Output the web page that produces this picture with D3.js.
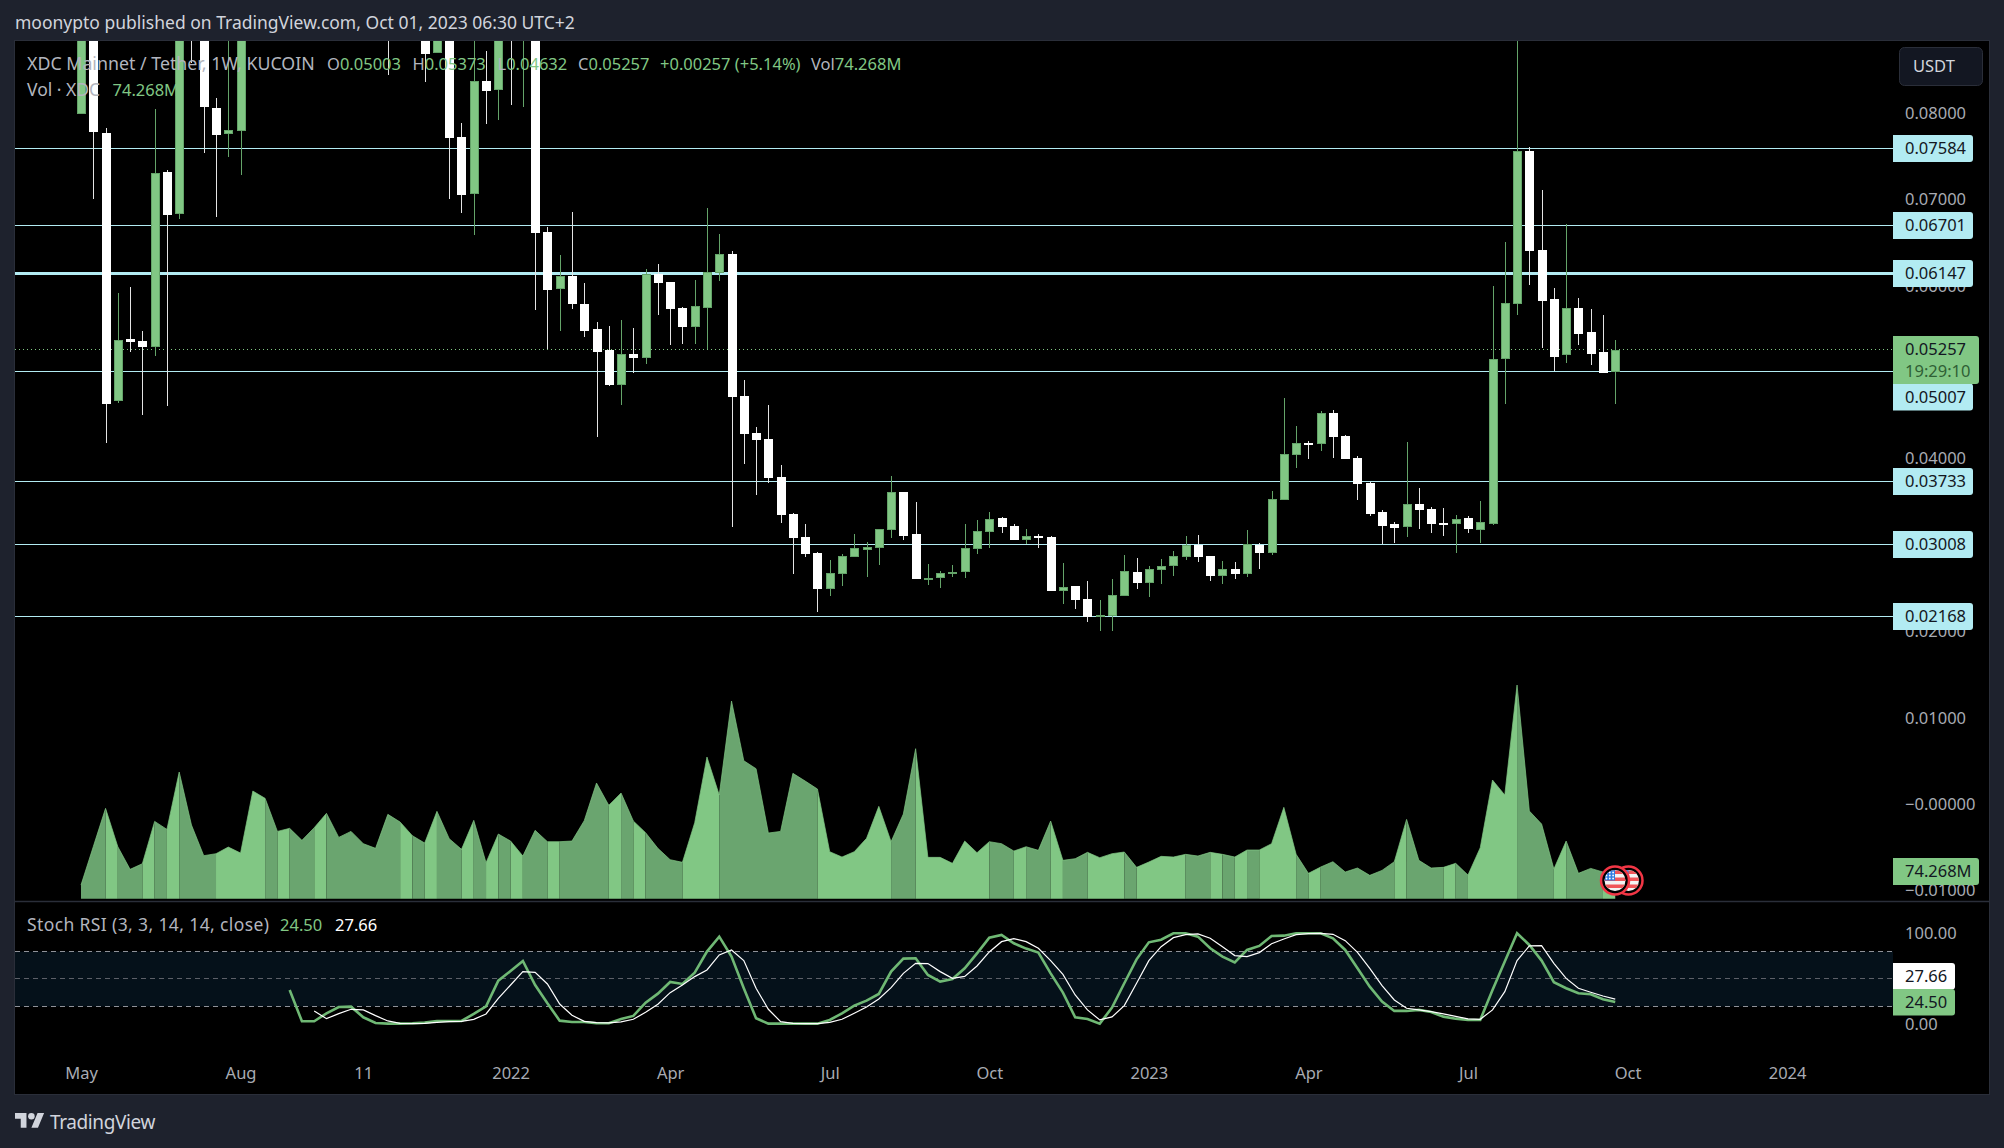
<!DOCTYPE html>
<html>
<head>
<meta charset="utf-8">
<title>XDC / USDT</title>
<script src="https://cdnjs.cloudflare.com/ajax/libs/d3/7.8.5/d3.min.js"></script>
<style>
  html, body { margin: 0; padding: 0; background: #1e222d; overflow: hidden; }
  svg { display: block; font-family: "Noto Sans", sans-serif; }
  text { font-size: 16.5px; }
</style>
</head>
<body>
<script>
var width = 2004;
var height = 1148;

// weekly candles. bars 14-27 and the tops of a few others
// are above the visible pane so those numbers are only rough guesses
var opens = [
  0.07993, 0.0960, 0.07769, 0.04666, 0.05380, 0.05357, 0.05280, 0.07314, 0.06831, 0.0950,
  0.0900, 0.08055, 0.07757, 0.07792, 0.0950, 0.1080, 0.1210, 0.1120, 0.1250, 0.1170,
  0.1090, 0.1310, 0.1210, 0.1130, 0.1060, 0.1000, 0.0920, 0.0900, 0.0960, 0.08695,
  0.0960, 0.07719, 0.07063, 0.08367, 0.08267, 0.0930, 0.08826, 0.0950, 0.06619, 0.05963,
  0.06109, 0.05785, 0.05496, 0.05253, 0.04851, 0.05206, 0.05164, 0.06133, 0.06040, 0.05739,
  0.05519, 0.05739, 0.06144, 0.06364, 0.04720, 0.04291, 0.04222, 0.03782, 0.03353, 0.03087,
  0.02902, 0.02485, 0.02659, 0.02856, 0.02937, 0.02960, 0.03168, 0.03608, 0.03122, 0.02601,
  0.02612, 0.02659, 0.02682, 0.02948, 0.03145, 0.03307, 0.03214, 0.03052, 0.03099, 0.03087,
  0.02462, 0.02520, 0.02369, 0.02165, 0.02172, 0.02404, 0.02682, 0.02555, 0.02705, 0.02751,
  0.02856, 0.02994, 0.02867, 0.02636, 0.02717, 0.02659, 0.02998, 0.02902, 0.03516, 0.04037,
  0.04176, 0.04164, 0.04523, 0.04257, 0.04002, 0.03712, 0.03377, 0.03238, 0.03195, 0.03469,
  0.03412, 0.03249, 0.03238, 0.03307, 0.03168, 0.03238, 0.05140, 0.05788, 0.07556, 0.06410,
  0.05843, 0.05186, 0.05738, 0.05460, 0.05229, 0.05003
];
var highs = [
  0.0990, 0.0975, 0.07819, 0.05909, 0.05977, 0.05473, 0.08043, 0.07337, 0.0960, 0.0960,
  0.0915, 0.08170, 0.0890, 0.0975, 0.1120, 0.1250, 0.1290, 0.1300, 0.1320, 0.1240,
  0.1380, 0.1400, 0.1260, 0.1200, 0.1110, 0.1050, 0.0970, 0.0985, 0.0990, 0.0990,
  0.0990, 0.07877, 0.0890, 0.08715, 0.0950, 0.0950, 0.0970, 0.0970, 0.06673, 0.06353,
  0.06850, 0.06024, 0.05577, 0.05531, 0.05600, 0.05507, 0.06187, 0.06248, 0.06040, 0.05750,
  0.06063, 0.06896, 0.06595, 0.06399, 0.04905, 0.04361, 0.04615, 0.03921, 0.03365, 0.03238,
  0.02913, 0.02821, 0.02890, 0.03118, 0.03029, 0.03180, 0.03793, 0.03608, 0.03492, 0.02775,
  0.02693, 0.02763, 0.03238, 0.03284, 0.03377, 0.03319, 0.03238, 0.03180, 0.03122, 0.03099,
  0.02786, 0.02520, 0.02578, 0.02358, 0.02601, 0.02879, 0.02844, 0.02751, 0.02832, 0.02925,
  0.03099, 0.03110, 0.02867, 0.02809, 0.02798, 0.03168, 0.03018, 0.03620, 0.04697, 0.04372,
  0.04199, 0.04546, 0.04558, 0.04268, 0.04025, 0.03724, 0.03400, 0.03261, 0.04187, 0.03655,
  0.03435, 0.03423, 0.03342, 0.03331, 0.03504, 0.05993, 0.06502, 0.0895, 0.07598, 0.07104,
  0.05970, 0.06711, 0.05854, 0.05727, 0.05657, 0.05373
];
var lows = [
  0.07993, 0.07001, 0.0418, 0.04643, 0.05229, 0.04500, 0.05187, 0.04604, 0.06769, 0.08572,
  0.07534, 0.06793, 0.07487, 0.07279, 0.0930, 0.1040, 0.1060, 0.1090, 0.1120, 0.1050,
  0.1060, 0.1170, 0.1080, 0.1020, 0.0950, 0.08440, 0.0890, 0.0890, 0.08359, 0.08695,
  0.07001, 0.06843, 0.06584, 0.07869, 0.07916, 0.08089, 0.08070, 0.05716, 0.05260, 0.05476,
  0.05727, 0.05407, 0.04249, 0.04836, 0.04616, 0.04990, 0.05091, 0.05658, 0.05310, 0.05322,
  0.05322, 0.05264, 0.06051, 0.03203, 0.03932, 0.03573, 0.03712, 0.03249, 0.02659, 0.02856,
  0.02219, 0.02404, 0.02520, 0.02856, 0.02624, 0.02763, 0.03076, 0.03052, 0.02601, 0.02531,
  0.02497, 0.02624, 0.02612, 0.02890, 0.02960, 0.03133, 0.03052, 0.03006, 0.02960, 0.02462,
  0.02311, 0.02253, 0.02103, 0.01999, 0.01999, 0.02404, 0.02485, 0.02392, 0.02543, 0.02636,
  0.02821, 0.02798, 0.02578, 0.02543, 0.02601, 0.02624, 0.02717, 0.02879, 0.03516, 0.03886,
  0.03990, 0.04083, 0.04002, 0.03990, 0.03516, 0.03330, 0.03002, 0.03018, 0.03091, 0.03180,
  0.03134, 0.03099, 0.02902, 0.03134, 0.03018, 0.03226, 0.04627, 0.05657, 0.06005, 0.05279,
  0.05005, 0.05105, 0.05310, 0.05078, 0.04990, 0.04632
];
var closes = [
  0.0960, 0.07781, 0.04627, 0.05368, 0.05345, 0.05287, 0.07298, 0.06816, 0.0935, 0.0900,
  0.08058, 0.07742, 0.07800, 0.0950, 0.1080, 0.1210, 0.1120, 0.1250, 0.1170, 0.1090,
  0.1310, 0.1210, 0.1130, 0.1060, 0.1000, 0.0920, 0.0900, 0.0960, 0.08684, 0.0960,
  0.07711, 0.07047, 0.08367, 0.08255, 0.0920, 0.08826, 0.0950, 0.06611, 0.05947, 0.06109,
  0.05785, 0.05476, 0.05229, 0.04847, 0.05206, 0.05160, 0.06133, 0.06028, 0.05727, 0.05519,
  0.05762, 0.06155, 0.06364, 0.04708, 0.04280, 0.04210, 0.03770, 0.03342, 0.03076, 0.02890,
  0.02485, 0.02670, 0.02867, 0.02960, 0.02971, 0.03180, 0.03608, 0.03099, 0.02601, 0.02612,
  0.02670, 0.02682, 0.02960, 0.03157, 0.03296, 0.03203, 0.03052, 0.03099, 0.03076, 0.02462,
  0.02508, 0.02358, 0.02161, 0.02184, 0.02416, 0.02693, 0.02555, 0.02717, 0.02751, 0.02867,
  0.02994, 0.02856, 0.02636, 0.02717, 0.02659, 0.03002, 0.02902, 0.03527, 0.04048, 0.04176,
  0.04160, 0.04523, 0.04245, 0.03990, 0.03701, 0.03353, 0.03214, 0.03191, 0.03466, 0.03400,
  0.03238, 0.03242, 0.03296, 0.03180, 0.03261, 0.05144, 0.05792, 0.07556, 0.06398, 0.05823,
  0.05171, 0.05734, 0.05437, 0.05206, 0.04990, 0.05257
];

// volume per week, millions of XDC
var volumes = [
  37.6, 143, 248.5, 143, 80.7, 96.3, 212.7, 190.7, 348.5, 202.7,
  118.3, 123.8, 142.1, 125.6, 296.2, 276, 185.2, 193.5, 160.5, 195.3,
  234.8, 168.7, 185.2, 151.3, 138.5, 232, 210.9, 173.3, 153.1, 240.3,
  165.1, 135.7, 215.5, 99, 177.9, 158.6, 117.4, 188, 156.8, 156.8,
  158.6, 214.6, 318.2, 256.8, 290.7, 213.7, 181.6, 138.5, 107.3, 100,
  209.1, 389.7, 285.2, 543.8, 379.6, 357.6, 180.6, 185.2, 344.8, 323.7,
  301.7, 129.3, 114.6, 129.3, 166, 254, 156.8, 232.9, 412.7, 113.7,
  113.7, 97.2, 158.6, 126.5, 156.8, 151.3, 131.1, 143, 133, 213.7,
  105.5, 110, 127.5, 112.8, 123.8, 128.4, 86.2, 100.9, 116.5, 114.6,
  122, 117.4, 127.5, 122, 114.6, 133.9, 133.9, 151.3, 251.3, 122,
  69.7, 87.1, 101.8, 73.4, 84.4, 64.2, 77.9, 101.8, 218.2, 105.5,
  84.4, 86.2, 97.2, 65.1, 140.3, 326.5, 285.2, 587.8, 241.2, 205.4,
  81.6, 158.6, 69.7, 83.4, 73.4, 74.268
];

// stoch rsi, the lines only start once enough bars exist
var kStart = 17;
var kValues = [
  37.7, 3.3, 3.3, 12.1, 19, 19.4, 7.7, 1.5, 0.7, 0.7,
  1.1, 1.8, 3.7, 3.7, 3.7, 11.4, 19.8, 48, 58.6, 69.6,
  43.2, 23.1, 4, 2.6, 2.6, 1.1, 1.1, 5.9, 9.2, 23.8,
  33.7, 46.5, 44.3, 56.8, 79.9, 96.3, 74.4, 39.6, 6.6, 0.7,
  0.7, 0.7, 0.7, 0.7, 4.8, 12.1, 20.5, 26, 33.3, 57.9,
  72.2, 72.5, 54.2, 46.9, 49.8, 61.5, 78, 95.2, 98.2, 89,
  83.2, 78.8, 56, 34.8, 7.7, 5.9, 0.7, 18.3, 45.1, 71.4,
  90.1, 93, 100, 100, 96.3, 83.5, 74.4, 68.1, 81.7, 86.1,
  97.1, 97.4, 100, 100, 100, 94.5, 81.7, 61.5, 41.4, 24.9,
  14.7, 14.7, 15.8, 13.6, 8.4, 6.2, 4.8, 4.8, 37.7, 68.9,
  100, 87.2, 70, 46.2, 39.6, 34.1, 33, 27.5, 24.5
];
var dStart = 19;
var dValues = [
  14.7, 6.2, 11.7, 16.5, 15.8, 9.5, 3.7, 1.1, 0.7, 1.1,
  2.2, 2.9, 3.3, 5.5, 11.4, 28.6, 43.2, 57.9, 57.1, 44.3,
  22.3, 9.9, 3.3, 1.8, 1.5, 2.6, 5.5, 13.2, 22, 34.8,
  43.2, 52.4, 59.7, 76.2, 81.7, 70, 39.6, 16.5, 2.9, 1.1,
  0.7, 0.7, 2.2, 5.5, 12.1, 19, 27.8, 40.3, 56, 67,
  66.7, 57.9, 50.5, 52.7, 64.1, 79.5, 90.8, 94.1, 90.8, 83.5,
  70, 54.9, 32.2, 15.8, 4.8, 8.1, 20.5, 45.1, 70, 85.3,
  95.2, 98.5, 99.3, 94.5, 85.3, 75.5, 74.4, 78.8, 88.6, 93.8,
  98.5, 99.6, 100, 98.9, 91.9, 79.1, 61.5, 42.5, 26.7, 17.6,
  15.8, 13.9, 11.4, 8.8, 5.9, 5.5, 15.8, 35.9, 70, 86.1,
  86.4, 67, 50.5, 39.6, 35.2, 31.1, 27.66
];

var levels = [0.07584, 0.06701, 0.06147, 0.05007, 0.03733, 0.03008, 0.02168];
var lastPrice = 0.05257;

var priceTicks = [0.08, 0.07, 0.06, 0.05, 0.04, 0.03, 0.02, 0.01, 0, -0.01];
var priceTickLabels = ["0.08000", "0.07000", "0.06000", "0.05000", "0.04000", "0.03000", "0.02000", "0.01000", "\u22120.00000", "\u22120.01000"];
var stochTicks = [100, 0];
var stochTickLabels = ["100.00", "0.00"];
var stochBands = [80, 50, 20];

// bar index of each label on the time axis
var timeTicks = [0, 13, 23, 35, 48, 61, 74, 87, 100, 113, 126, 139];
var timeTickLabels = ["May", "Aug", "11", "2022", "Apr", "Jul", "Oct", "2023", "Apr", "Jul", "Oct", "2024"];

var green = "#81c784";
var greenDark = "#6aa56f";
var candleEdge = "#64a469";
var levelColor = "#b2ebf2";
var axisColor = "#a8abb3";
var frameColor = "#2a2e39";

// pane edges
var left = 15, right = 1893, frameRight = 1989;
var paneTop = 41, paneBottom = 901, frameBottom = 1094;

var x = d3.scaleLinear().domain([0, 125]).range([81, 1615.25]);
var y = d3.scaleLinear().domain([0.08, -0.01]).range([112.7, 890]);
var yVol = d3.scaleLinear().domain([0, 100]).range([898.7, 862.35]);
var yStoch = d3.scaleLinear().domain([0, 100]).range([1024.3, 933.3]);

// pixel row of a thin horizontal line
function rowY(v) { return Math.round(y(v) - 0.2) + 0.5; }
function stochRow(v) { return Math.floor(yStoch(v)) + 0.5; }

var svg = d3.select("body").append("svg")
  .attr("width", width)
  .attr("height", height);

svg.append("rect").attr("width", width).attr("height", height).attr("fill", "#1e222d");
svg.append("rect")
  .attr("x", left - 0.5).attr("y", paneTop - 0.5)
  .attr("width", frameRight - left + 1).attr("height", frameBottom - paneTop + 1)
  .attr("fill", "#000").attr("stroke", frameColor);

svg.append("clipPath").attr("id", "pane")
  .append("rect").attr("x", left).attr("y", paneTop)
  .attr("width", right - left).attr("height", paneBottom - paneTop);

var plot = svg.append("g").attr("clip-path", "url(#pane)");

// horizontal levels
plot.selectAll(".level").data(levels).enter().append("line")
  .attr("class", "level")
  .attr("x1", left).attr("x2", right)
  .attr("y1", rowY)
  .attr("y2", rowY)
  .attr("stroke", levelColor)
  .attr("stroke-width", function(d) { return d == 0.06147 ? 3 : 1; });

plot.append("line")
  .attr("x1", left).attr("x2", right)
  .attr("y1", rowY(lastPrice)).attr("y2", rowY(lastPrice))
  .attr("stroke", green).attr("stroke-dasharray", "1 3");

// volume, weeks of the same candle colour joined into one area
var volArea = d3.area()
  .x(function(d) { return x(d); })
  .y0(yVol(0))
  .y1(function(d) { return yVol(volumes[d]); });

var volLine = d3.line()
  .x(function(d) { return x(d); })
  .y(function(d) { return yVol(volumes[d]); });

function isUp(i) { return closes[i] >= opens[i]; }

var volRuns = [];
d3.range(1, volumes.length).forEach(function(i) {
  var last = volRuns[volRuns.length - 1];
  if (last && last.up == isUp(i)) last.end = i;
  else volRuns.push({ start: i - 1, end: i, up: isUp(i) });
});

plot.selectAll(".vol").data(volRuns).enter().append("path")
  .attr("class", "vol")
  .attr("d", function(r) { return volArea(d3.range(r.start, r.end + 1)); })
  .attr("fill", function(r) { return r.up ? green : greenDark; });

plot.append("path")
  .attr("d", volLine(d3.range(volumes.length)))
  .attr("fill", "none")
  .attr("stroke", green)
  .attr("stroke-opacity", 0.7);

// candles
var candles = plot.selectAll(".candle").data(d3.range(opens.length)).enter().append("g")
  .attr("class", "candle")
  .attr("shape-rendering", "crispEdges");

candles.append("line")
  .attr("x1", function(i) { return Math.round(x(i)) + 0.5; })
  .attr("x2", function(i) { return Math.round(x(i)) + 0.5; })
  .attr("y1", function(i) { return y(highs[i]); })
  .attr("y2", function(i) { return y(lows[i]); })
  .attr("stroke", function(i) { return isUp(i) ? candleEdge : "#e4e4e4"; });

candles.append("rect")
  .attr("x", function(i) { return Math.round(x(i)) - 3.5; })
  .attr("width", 8)
  .attr("y", function(i) { return Math.round(y(Math.max(opens[i], closes[i]))) + 0.5; })
  .attr("height", function(i) { return Math.max(1, Math.round(Math.abs(y(opens[i]) - y(closes[i]))) - 1); })
  .attr("fill", function(i) { return isUp(i) ? green : "#fff"; })
  .attr("stroke", function(i) { return isUp(i) ? candleEdge : "#fff"; });

// two flag markers over the last volume week
function flag(cx, cy) {
  var id = "flag" + Math.round(cx);
  var g = svg.append("g");
  g.append("circle").attr("cx", cx).attr("cy", cy).attr("r", 14).attr("fill", "#000")
    .attr("stroke", "#f23645").attr("stroke-width", 2.5);
  svg.append("clipPath").attr("id", id).append("circle")
    .attr("cx", cx).attr("cy", cy).attr("r", 10.5);
  var f = g.append("g").attr("clip-path", "url(#" + id + ")");
  f.append("rect").attr("x", cx - 11).attr("y", cy - 11).attr("width", 22).attr("height", 22).attr("fill", "#f4f4f4");
  d3.range(3).forEach(function(k) {
    f.append("rect").attr("x", cx - 11).attr("y", cy - 10 + k * 7).attr("width", 22).attr("height", 3.5).attr("fill", "#f0565a");
  });
  f.append("rect").attr("x", cx - 11).attr("y", cy - 11).attr("width", 11).attr("height", 11).attr("fill", "#2f7de1");
  d3.range(3).forEach(function(r) {
    d3.range(3).forEach(function(c) {
      f.append("circle").attr("cx", cx - 8.5 + c * 3.3).attr("cy", cy - 8 + r * 3).attr("r", 0.9).attr("fill", "#fff");
    });
  });
}
flag(1628.5, 880.5);
flag(1615, 880.5);

// stoch pane
svg.append("line")
  .attr("x1", left).attr("x2", frameRight)
  .attr("y1", paneBottom + 0.5).attr("y2", paneBottom + 0.5)
  .attr("stroke", frameColor).attr("stroke-width", 1.5);

svg.append("rect")
  .attr("x", left).attr("width", right - left)
  .attr("y", stochRow(80)).attr("height", stochRow(20) - stochRow(80))
  .attr("fill", "#05111a");

svg.selectAll(".band").data(stochBands).enter().append("line")
  .attr("class", "band")
  .attr("x1", left).attr("x2", right)
  .attr("y1", stochRow)
  .attr("y2", stochRow)
  .attr("stroke", function(d) { return d == 50 ? "#5d6068" : "#8f9299"; })
  .attr("stroke-dasharray", "5 4");

var kLine = d3.line()
  .x(function(d, i) { return x(i + kStart); })
  .y(function(d) { return yStoch(d); });
var dLine = d3.line()
  .x(function(d, i) { return x(i + dStart); })
  .y(function(d) { return yStoch(d); });

svg.append("path").attr("d", kLine(kValues))
  .attr("fill", "none").attr("stroke", "#6fb874").attr("stroke-width", 2.6);
svg.append("path").attr("d", dLine(dValues))
  .attr("fill", "none").attr("stroke", "#fff").attr("stroke-width", 1.2);

// axes
var priceAxis = d3.axisRight(y)
  .tickValues(priceTicks)
  .tickSize(0)
  .tickPadding(12)
  .tickFormat(function(d, i) { return priceTickLabels[i]; });

var stochAxis = d3.axisRight(yStoch)
  .tickValues(stochTicks)
  .tickSize(0)
  .tickPadding(12)
  .tickFormat(function(d, i) { return stochTickLabels[i]; });

var timeAxis = d3.axisBottom(x)
  .tickValues(timeTicks)
  .tickSize(0)
  .tickPadding(0)
  .tickFormat(function(d, i) { return timeTickLabels[i]; });

function styleAxis(g) {
  g.select(".domain").remove();
  g.selectAll("text").attr("fill", axisColor).style("font-size", "16.5px");
  g.attr("font-family", null);
}

svg.append("g").attr("transform", "translate(" + right + ",0.5)").call(priceAxis).call(styleAxis);
svg.append("g").attr("transform", "translate(" + right + ",0)").call(stochAxis).call(styleAxis);
svg.append("g").attr("transform", "translate(0,1067)").call(timeAxis).call(styleAxis);

// value tags on the right, same colour as their lines
function tag(cy, w, h, fill, lines) {
  svg.append("path")
    .attr("d", "M" + right + "," + (cy - h / 2) + "h" + (w - 3) + "q3,0 3,3v" + (h - 6) + "q0,3 -3,3h" + (3 - w) + "z")
    .attr("fill", fill);
  lines.forEach(function(l) {
    svg.append("text")
      .attr("x", right + 12).attr("y", cy + l.dy)
      .attr("dy", "0.35em")
      .attr("fill", l.color || "#131722")
      .text(l.text);
  });
}

levels.forEach(function(d) {
  // the 0.05007 tag gets pushed down below the last price tag
  var cy = d == 0.05007 ? 397 : rowY(d);
  tag(cy, 80, 27, levelColor, [{ text: d.toFixed(5), dy: 0 }]);
});
tag(360, 86, 48, green, [
  { text: lastPrice.toFixed(5), dy: -10.5 },
  { text: "19:29:10", dy: 11.5, color: "#2f5f35" }
]);
tag(871.5, 86, 27, green, [{ text: "74.268M", dy: 0 }]);
tag(976.25, 62, 26.5, "#fff", [{ text: "27.66", dy: 0 }]);
tag(1002.25, 62, 26.5, green, [{ text: "24.50", dy: 0 }]);

// currency button
svg.append("rect")
  .attr("x", 1899.5).attr("y", 47.5).attr("width", 83).attr("height", 38).attr("rx", 5)
  .attr("fill", "#131722").attr("stroke", frameColor);
svg.append("text").attr("x", 1913).attr("y", 66).attr("dy", "0.35em")
  .attr("fill", "#d1d4dc").text("USDT");

// legend rows, each piece placed where it sits in the picture
function legend(px, py, text, color) {
  return svg.append("text").attr("x", px).attr("y", py).attr("dy", "0.35em").attr("fill", color).text(text);
}
var textGrey = "#b2b5be";
legend(15, 23, "moonypto published on TradingView.com, Oct 01, 2023 06:30 UTC+2", "#d1d4dc").style("font-size", "17.5px");

legend(27, 64, "XDC Mainnet / Tether, 1W, KUCOIN", textGrey).style("font-size", "17.8px");
[["O", "0.05003", 327], ["H", "0.05373", 412.5], ["L", "0.04632", 497.5], ["C", "0.05257", 578]].forEach(function(o) {
  legend(o[2], 64, o[0], textGrey).append("tspan").attr("fill", green).text(o[1]);
});
legend(660, 64, "+0.00257 (+5.14%)", green);
legend(811, 64, "Vol", textGrey).append("tspan").attr("fill", green).text("74.268M");

legend(27, 90, "Vol \u00b7 XDC", textGrey).style("font-size", "17.5px");
legend(112.5, 90, "74.268M", green);

legend(27, 925, "Stoch RSI (3, 3, 14, 14, close)", textGrey)
  .style("font-size", "17.5px").style("letter-spacing", "0.38px");
legend(280, 925, "24.50", green);
legend(335, 925, "27.66", "#fff");

// watermark
var logo = svg.append("g")
  .attr("transform", "translate(15,1109.7) scale(0.82)")
  .attr("fill", "#d1d4dc");
logo.append("path").attr("d", "M14 22H7V11H0V4h14v18zM28 22h-8l7.5-18h8L28 22z");
logo.append("circle").attr("cx", 20).attr("cy", 8).attr("r", 4);
legend(50, 1122, "TradingView", "#d1d4dc").style("font-size", "19px").style("letter-spacing", "-0.4px");
</script>
</body>
</html>
